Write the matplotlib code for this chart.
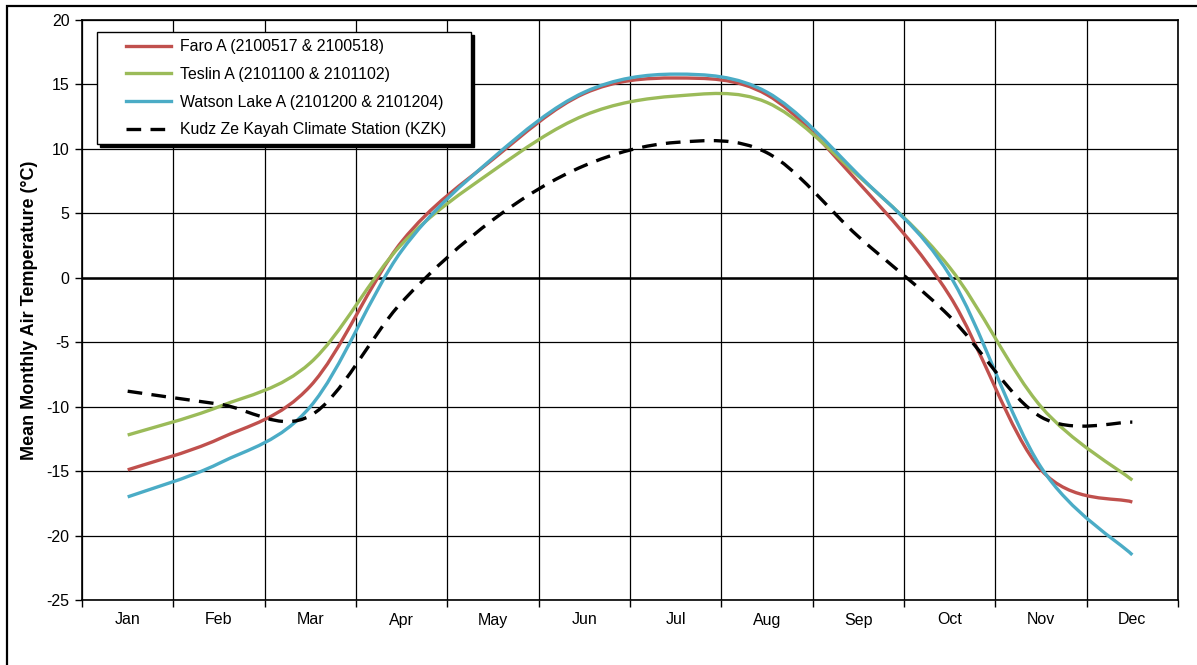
import numpy as np
import matplotlib
matplotlib.use("Agg")
import matplotlib.pyplot as plt
from matplotlib.path import Path
from matplotlib.patches import PathPatch, Rectangle
from matplotlib.lines import Line2D
from matplotlib.legend_handler import HandlerLine2D

months = ['Jan', 'Feb', 'Mar', 'Apr', 'May', 'Jun', 'Jul', 'Aug', 'Sep', 'Oct', 'Nov', 'Dec']
faro = [-14.9, -12.5, -8.4, 2.8, 9.2, 14.3, 15.5, 14.2, 7.4, -1.4, -14.9, -17.4]
teslin = [-12.2, -10.0, -6.6, 2.6, 8.3, 12.6, 14.1, 13.6, 7.9, 0.8, -10.0, -15.7]
watson = [-17.0, -14.4, -10.0, 2.1, 9.3, 14.4, 15.8, 14.4, 8.0, 0.2, -14.7, -21.5]
kzk = [-8.8, -9.8, -10.7, -1.9, 4.5, 8.7, 10.5, 9.7, 3.2, -3.0, -10.8, -11.2]

labels = ['Faro A (2100517 & 2100518)',
          'Teslin A (2101100 & 2101102)',
          'Watson Lake A (2101200 & 2101204)',
          'Kudz Ze Kayah Climate Station (KZK)    ']
colors = ['#C0504D', '#9BBB59', '#4BACC6', 'black']
styles = ['-', '-', '-', (0, (4.4, 2.8))]

plt.rcParams['font.family'] = ['Liberation Sans', 'DejaVu Sans']
plt.rcParams['axes.unicode_minus'] = False


def smooth_path(y):
    # excel-style smoothed line: cubic bezier through every point
    p = np.column_stack([np.arange(len(y)), y]).astype(float)
    verts = [p[0]]
    codes = [Path.MOVETO]
    n = len(p)
    for i in range(n - 1):
        p0 = p[max(i - 1, 0)]
        p3 = p[min(i + 2, n - 1)]
        c1 = p[i] + (p[i + 1] - p0) / 6
        c2 = p[i + 1] - (p3 - p[i]) / 6
        verts += [c1, c2, p[i + 1]]
        codes += [Path.CURVE4] * 3
    return Path(verts, codes)


fig = plt.figure(figsize=(11.97, 6.65), dpi=100)
ax = fig.add_axes([82 / 1197, 65 / 665, 1096 / 1197, 580 / 665])

# outer frame of the chart area
fig.patches.append(Rectangle((7 / 1197, -0.1), 1.2, (659 / 665) + 0.1,
                             transform=fig.transFigure, fill=False,
                             edgecolor='black', linewidth=1.6))

handles = []
for y, c, ls, lab in zip([faro, teslin, watson, kzk], colors, styles, labels):
    ax.add_patch(PathPatch(smooth_path(y), fill=False, edgecolor=c,
                           linewidth=2.4, linestyle=ls, zorder=3,
                           capstyle='butt', joinstyle='round'))
    handles.append(Line2D([], [], color=c, linewidth=2.4, linestyle=ls, label=lab))

ax.set_xlim(-0.5, 11.5)
ax.set_ylim(-25, 20)
ax.set_yticks(np.arange(-25, 21, 5))
ax.set_xticks(np.arange(12))
ax.set_xticklabels(months)
ax.set_xticks(np.arange(-0.5, 12, 1), minor=True)
ax.tick_params(axis='x', which='major', length=0, pad=9, labelsize=11.5)
ax.tick_params(axis='x', which='minor', length=5, width=1, direction='out')
ax.tick_params(axis='y', length=5, width=1, direction='out', pad=4, labelsize=11.5)
ax.grid(True, which='minor', axis='x', color='black', linewidth=0.9)
ax.grid(True, which='major', axis='y', color='black', linewidth=0.9)
ax.axhline(0, color='black', linewidth=1.8, zorder=2)
ax.set_axisbelow(True)
for s in ax.spines.values():
    s.set_linewidth(1.2)

ax.set_ylabel('Mean Monthly Air Temperature (°C)', fontsize=13,
              fontweight='bold', labelpad=6)

leg = ax.legend(handles=handles, loc='upper left', bbox_to_anchor=(0.0137, 0.979),
                fontsize=11.4, frameon=True, fancybox=False, handlelength=4.2,
                handletextpad=0.62, labelspacing=0.8, borderpad=0.45,
                borderaxespad=0, shadow={'color': 'black', 'alpha': 1},
                handler_map={Line2D: HandlerLine2D(xpad=1.4)})
leg.get_frame().set_edgecolor('black')
leg.get_frame().set_linewidth(1.0)

fig.savefig('out.png', dpi=100)
